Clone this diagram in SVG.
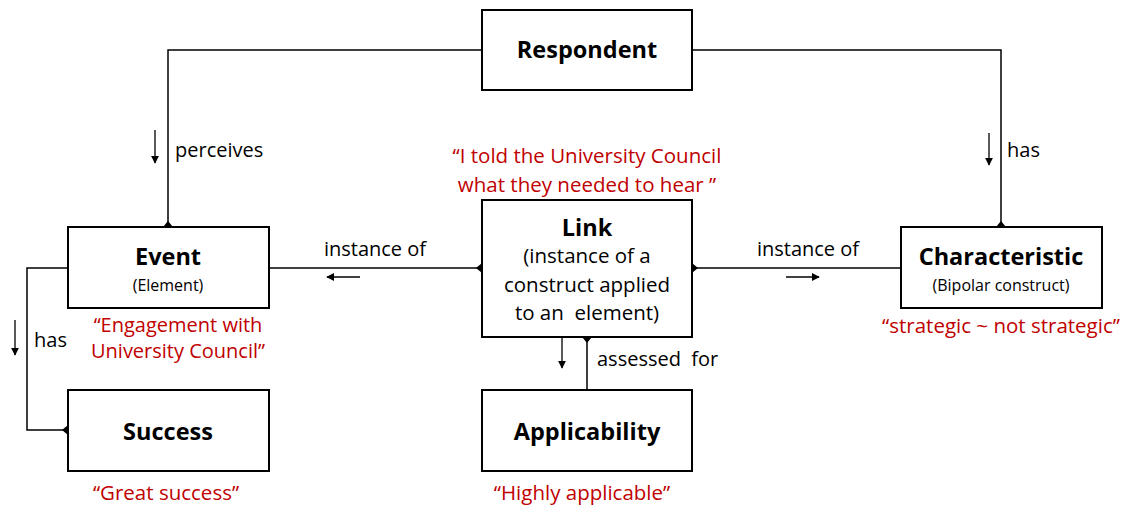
<svg xmlns="http://www.w3.org/2000/svg" width="1130" height="507" viewBox="0 0 1130 507">
<style>
.box{fill:#fff;stroke:#000;stroke-width:2}
.ln{fill:none;stroke:#000;stroke-width:1.5}
.ar{fill:none;stroke:#000;stroke-width:1.3}
text{font-family:"Open Sans","Liberation Sans",sans-serif;fill:#000}
.t{font-size:23.5px;font-weight:bold;text-anchor:middle}
.s{font-size:16px;text-anchor:middle}
.m{font-size:20.5px;text-anchor:middle}
.l{font-size:20px}
.r{font-size:20.5px;fill:#C00000;text-anchor:middle}
.r2{font-size:20px;fill:#C00000;text-anchor:middle}
</style>
<defs>
<marker id="ah" viewBox="0 0 10 10" refX="9" refY="5" markerWidth="8" markerHeight="8" markerUnits="userSpaceOnUse" orient="auto"><path d="M0,0 L10,5 L0,10 z" fill="#000"/></marker>
</defs>
<g id="connectors">
<path class="ln" d="M482,50 H168 V227"/>
<path class="ln" d="M692,50 H1001 V227"/>
<path class="ln" d="M269,268 H482"/>
<path class="ln" d="M692,268 H901"/>
<path class="ln" d="M68,268 H27 V430 H68"/>
<path class="ln" d="M587,337 V390"/>
<path d="M163,227 L173,227 L168,221 z"/>
<path d="M996,227 L1006,227 L1001,221 z"/>
<path d="M482,263 L482,273 L476,268 z"/>
<path d="M692,263 L692,273 L698,268 z"/>
<path d="M582,337 L592,337 L587,343 z"/>
<path d="M68,425 L68,435 L62,430 z"/>
<path class="ar" d="M155,130 V163" marker-end="url(#ah)"/>
<path class="ar" d="M989,133 V165" marker-end="url(#ah)"/>
<path class="ar" d="M15,320 V355" marker-end="url(#ah)"/>
<path class="ar" d="M562,338 V368" marker-end="url(#ah)"/>
<path class="ar" d="M360,277 H327" marker-end="url(#ah)"/>
<path class="ar" d="M786,277 H819" marker-end="url(#ah)"/>
<text class="l" x="175" y="157">perceives</text>
<text class="l" x="1007" y="157">has</text>
<text class="l" x="34" y="347">has</text>
<text class="l" x="597" y="366" xml:space="preserve">assessed  for</text>
<text class="l" x="375" y="256" text-anchor="middle">instance of</text>
<text class="l" x="808" y="256" text-anchor="middle">instance of</text>
</g>
<g id="respondent">
<rect class="box" x="482" y="10" width="210" height="80"/>
<text class="t" x="587" y="58">Respondent</text>
</g>
<g id="event">
<rect class="box" x="68" y="227" width="201" height="81"/>
<text class="t" x="168" y="265">Event</text>
<text class="s" x="168" y="291">(Element)</text>
<text class="r2" x="178" y="332">“Engagement with</text>
<text class="r2" x="178" y="358">University Council”</text>
</g>
<g id="characteristic">
<rect class="box" x="901" y="227" width="201" height="81"/>
<text class="t" x="1001" y="265">Characteristic</text>
<text class="s" x="1001" y="291">(Bipolar construct)</text>
<text class="r" x="1001" y="333">“strategic ~ not strategic”</text>
</g>
<g id="link">
<text class="r" x="587" y="163">“I told the University Council</text>
<text class="r" x="587" y="192">what they needed to hear ”</text>
<rect class="box" x="482" y="200" width="210" height="137"/>
<text class="t" x="587" y="236">Link</text>
<text class="m" x="587" y="263">(instance of a</text>
<text class="m" x="587" y="292">construct applied</text>
<text class="m" x="587" y="320" xml:space="preserve">to an  element)</text>
</g>
<g id="success">
<rect class="box" x="68" y="390" width="201" height="81"/>
<text class="t" x="168" y="440">Success</text>
<text class="r" x="166" y="500">“Great success”</text>
</g>
<g id="applicability">
<rect class="box" x="482" y="390" width="210" height="81"/>
<text class="t" x="587" y="440">Applicability</text>
<text class="r" x="582" y="500">“Highly applicable”</text>
</g>
</svg>
